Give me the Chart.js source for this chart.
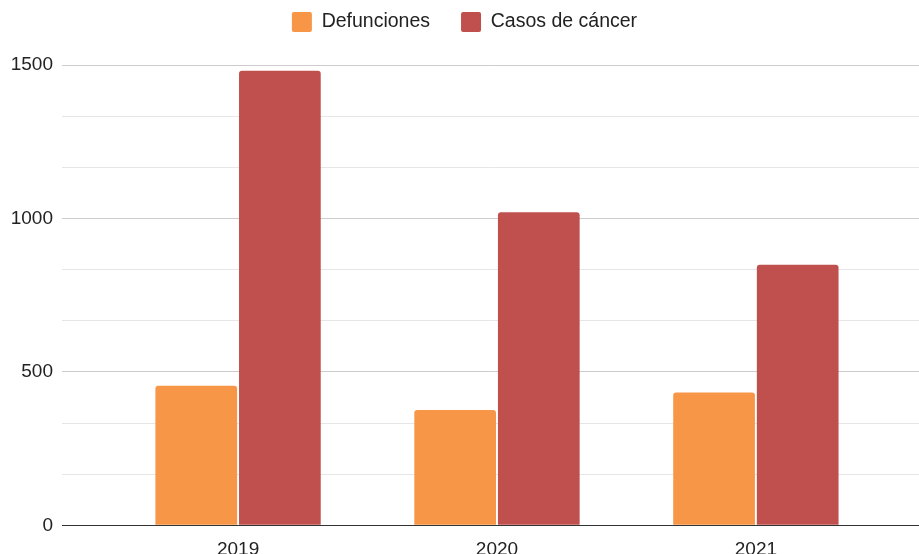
<!DOCTYPE html>
<html>
<head>
<meta charset="utf-8">
<script src="https://cdn.jsdelivr.net/npm/chart.js@4/dist/chart.umd.min.js"></script>
<style>
	body { margin: 0; background: #fff; }
</style>
</head>
<body>
<canvas id="grafico" width="919" height="554"></canvas>
<script>
const years = ['2019', '2020', '2021'];
const defunciones = [455, 376, 433];
const casosCancer = [1481, 1020, 849];
const yTicks = [0, 500, 1000, 1500];

const ctx = document.getElementById('grafico').getContext('2d');

// pushes the plot area down below the legend
const legendSpacer = {
	id: 'legendSpacer',
	beforeInit(chart) {
		const fit = chart.legend.fit;
		chart.legend.fit = function () {
			fit.bind(chart.legend)();
			this.height += 23;
		};
	}
};

const toPoints = (values) => values.map((v, i) => ({ x: i, y: v }));
const isMajor = (v) => yTicks.includes(Math.round(v)) && Math.abs(v - Math.round(v)) < 1e-6;

Chart.defaults.font.family = "'Liberation Sans', Arial, sans-serif";
Chart.defaults.font.size = 19;
Chart.defaults.color = '#222';

new Chart(ctx, {
	type: 'bar',
	data: {
		datasets: [
			{
				label: 'Defunciones',
				data: toPoints(defunciones),
				backgroundColor: '#F79646',
				borderRadius: 3,
				borderSkipped: 'start'
			},
			{
				label: 'Casos de cáncer',
				data: toPoints(casosCancer),
				backgroundColor: '#C0504D',
				borderRadius: 3,
				borderSkipped: 'start'
			}
		]
	},
	options: {
		responsive: false,
		animation: false,
		categoryPercentage: 0.646,
		barPercentage: 0.977,
		layout: {
			padding: { top: -19, left: 10, right: 0, bottom: 0 }
		},
		plugins: {
			tooltip: { enabled: false },
			legend: {
				position: 'top',
				labels: {
					font: { size: 19.5 },
					boxWidth: 20,
					boxHeight: 20,
					padding: 31,
					useBorderRadius: true,
					borderRadius: 2
				}
			}
		},
		scales: {
			x: {
				type: 'linear',
				offset: false,
				min: -0.68,
				max: 2.63,
				afterBuildTicks: (scale) => {
					scale.ticks = years.map((y, i) => ({ value: i }));
				},
				afterFit: (scale) => {
					scale.height = 28.7;
				},
				ticks: {
					padding: 5,
					maxRotation: 0,
					callback: (v) => years[v]
				},
				grid: { display: false },
				border: { display: true, color: '#333', width: 1 }
			},
			y: {
				min: 0,
				max: 1500,
				afterBuildTicks: (scale) => {
					let ticks = [];
					for (let i = 0; i < yTicks.length - 1; i++) {
						let step = (yTicks[i + 1] - yTicks[i]) / 3;
						for (let k = 0; k < 3; k++) ticks.push({ value: yTicks[i] + step * k });
					}
					ticks.push({ value: yTicks[yTicks.length - 1] });
					scale.ticks = ticks;
				},
				afterFit: (scale) => {
					scale.width = 52;
				},
				ticks: {
					padding: 9,
					callback: (v) => (isMajor(v) ? String(Math.round(v)) : '')
				},
				grid: {
					drawTicks: false,
					color: (c) => {
						const v = c.tick.value;
						if (Math.round(v) === 0) return '#333';
						return isMajor(v) ? '#cccccc' : '#e6e6e6';
					}
				},
				border: { display: false }
			}
		}
	},
	plugins: [legendSpacer]
});
</script>
</body>
</html>
